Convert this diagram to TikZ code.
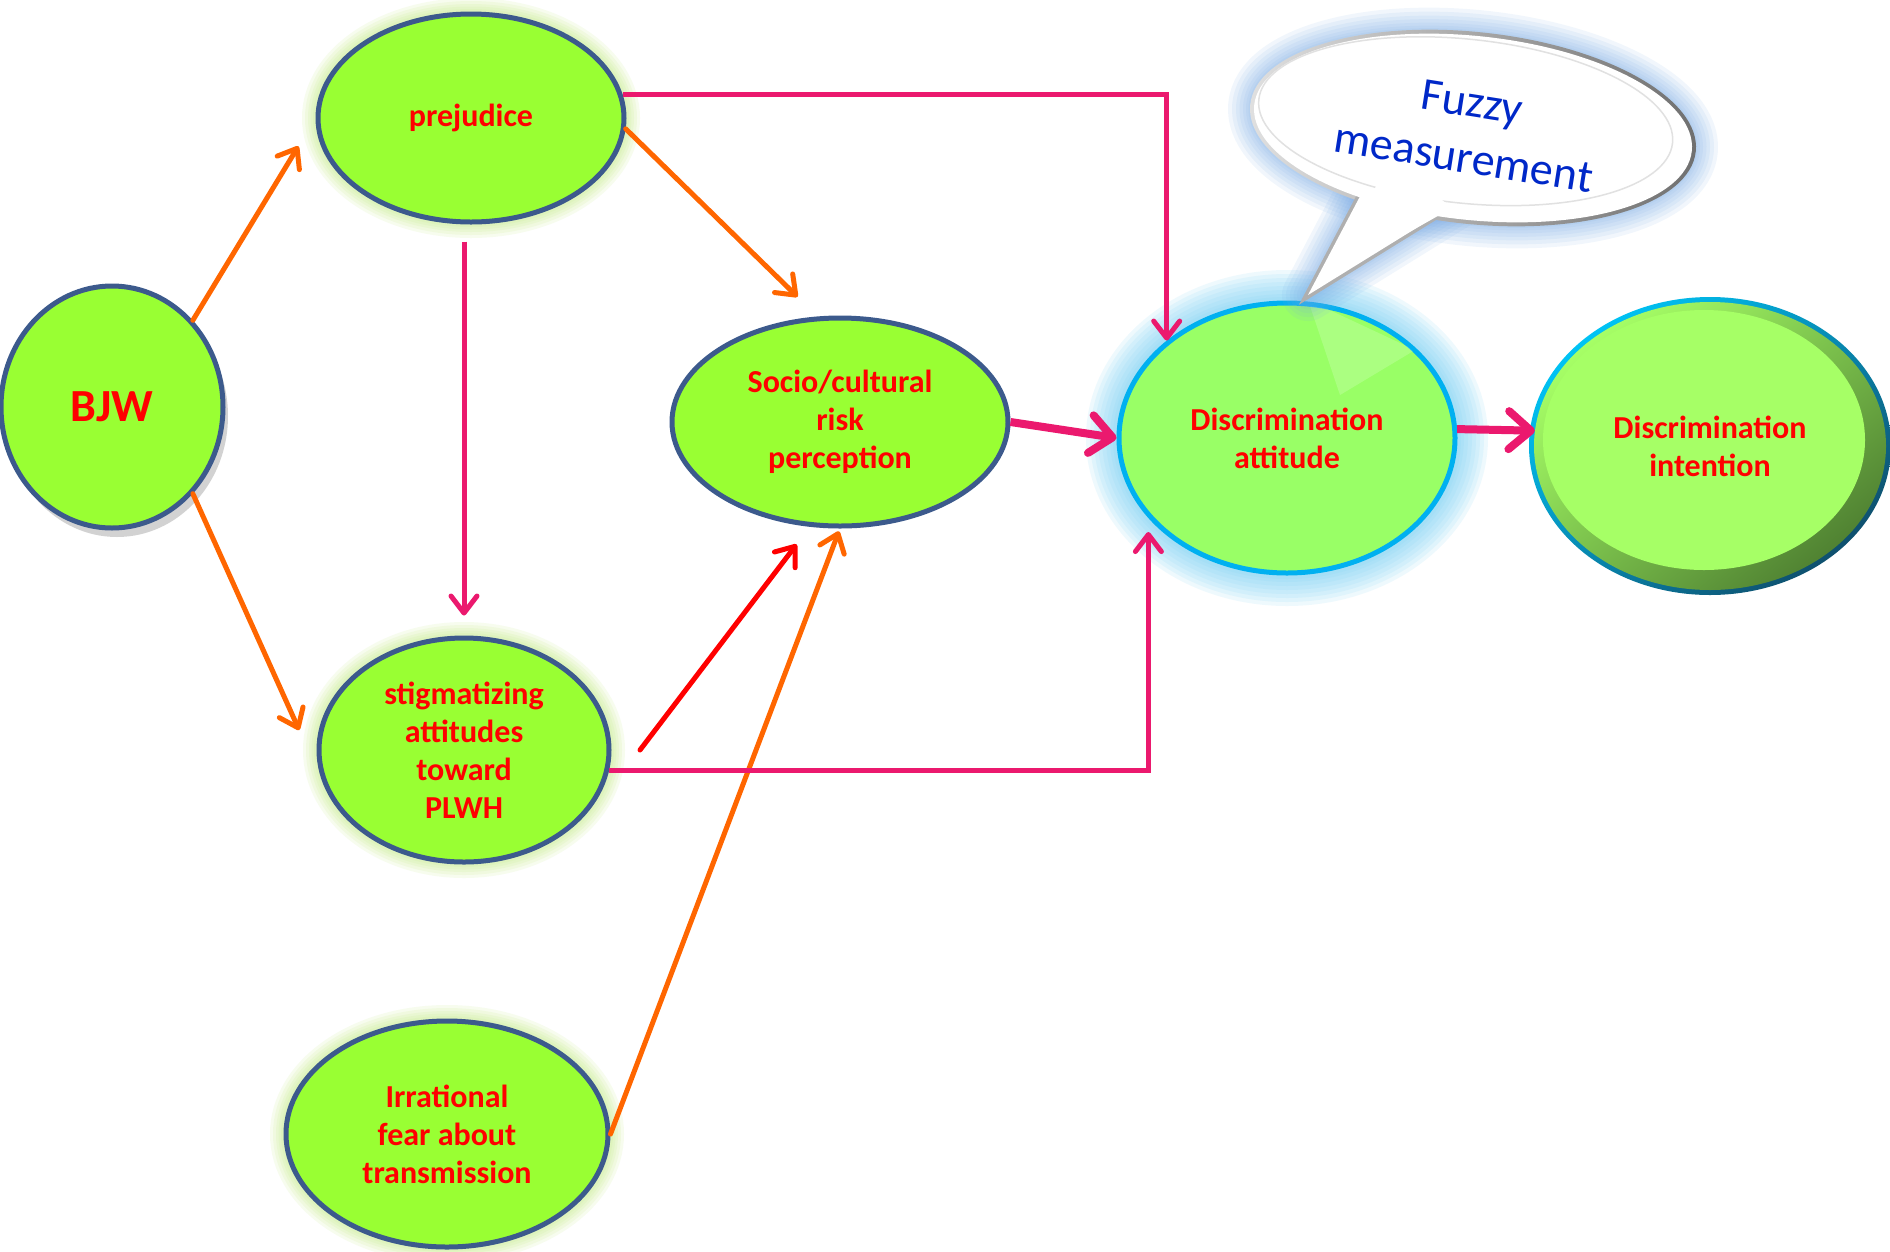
\documentclass[tikz,border=0pt]{standalone}
\usepackage{fontspec}
\setmainfont{Carlito}
\usetikzlibrary{arrows.meta,shapes.geometric,shadows,calc}
\definecolor{nodegreen}{RGB}{153,255,51}
\definecolor{nodeline}{RGB}{60,90,140}
\definecolor{txtred}{RGB}{255,0,0}
\definecolor{arrorange}{RGB}{255,102,0}
\definecolor{arrpink}{RGB}{235,25,110}
\definecolor{arrred}{RGB}{255,0,0}
\definecolor{halogreen}{RGB}{190,235,120}
\definecolor{halocyan}{RGB}{120,210,245}
\definecolor{attfill}{RGB}{153,255,102}
\definecolor{attline}{RGB}{0,176,240}
\definecolor{intfill}{RGB}{166,255,102}
\definecolor{intdark}{RGB}{80,130,50}
\definecolor{intlinelight}{RGB}{0,195,245}
\definecolor{intlinedark}{RGB}{15,80,110}
\definecolor{bubbleblue}{RGB}{120,170,230}
\definecolor{bubbleedge}{RGB}{175,175,175}
\definecolor{bubbledark}{RGB}{110,110,110}
\definecolor{bubblelight}{RGB}{225,225,225}
\definecolor{bubbletext}{RGB}{0,40,200}
\begin{document}
\begin{tikzpicture}[x=1pt,y=-1pt,
  base/.style={ellipse, inner sep=0pt, align=center, text=txtred,
    font=\bfseries\fontsize{32}{38}\selectfont},
  greennode/.style={base, fill=nodegreen, draw=nodeline, line width=5pt},
  hl/.style 2 args={preaction={draw=#1, line width=#2, draw opacity=0.12}},
  halo/.style={hl={halogreen}{32pt}, hl={halogreen}{26pt}, hl={halogreen}{20pt},
               hl={halogreen}{15pt}, hl={halogreen}{10pt}},
  cyanhalo/.style={hl={halocyan}{66pt}, hl={halocyan}{58pt}, hl={halocyan}{50pt},
               hl={halocyan}{42pt}, hl={halocyan}{34pt}, hl={halocyan}{26pt},
               hl={halocyan}{18pt}, hl={halocyan}{12pt}},
  orangearr/.style={draw=arrorange, line width=5pt, line cap=round,
    -{Straight Barb[length=17pt,width=26pt,round]}},
  redarr/.style={draw=arrred, line width=5pt, line cap=round,
    -{Straight Barb[length=17pt,width=26pt,round]}},
  pinkarr/.style={draw=arrpink, line width=5pt, line join=miter,
    -{Straight Barb[length=17pt,width=26pt,round]}},
  pinkthick/.style={draw=arrpink, line width=8pt,
    -{Straight Barb[length=22pt,width=38pt,round]}},
  bubglow/.style={draw=bubbleblue, line join=round, draw opacity=0.1},
]
\useasboundingbox (0,0) rectangle (1890,1251);
\fill[white] (0,0) rectangle (1890,1251);

% nodes
\node[greennode, minimum width=222pt, minimum height=242pt,
  font=\bfseries\fontsize{46}{50}\selectfont,
  drop shadow={shadow xshift=5pt, shadow yshift=-9pt, opacity=0.35}]
  (bjw) at (112,407) {BJW};
\node[greennode, halo, minimum width=306pt, minimum height=208pt] (pre) at (471,118) {prejudice};
\node[greennode, minimum width=336pt, minimum height=208pt] (soc) at (840,422) {Socio/cultural\\risk\\perception};
\node[greennode, halo, minimum width=290pt, minimum height=224pt] (stig) at (464,750) {stigmatizing\\attitudes\\toward\\PLWH};
\node[greennode, halo, minimum width=322pt, minimum height=226pt] (irr) at (447,1134) {Irrational\\fear about\\transmission};
\node[base, cyanhalo, fill=attfill, draw=attline, line width=5pt,
  minimum width=336pt, minimum height=270pt] (att) at (1287,438) {Discrimination\\attitude};
% rim of the intention ellipse (light at top-left, dark at bottom-right)
\shade[top color=intlinelight, bottom color=intlinedark, shading angle=40]
  (1710,446) ellipse [x radius=181, y radius=149];
\node[base, top color=intfill, bottom color=intdark,
  shading angle=40, minimum width=352pt, minimum height=288pt,
  path picture={\fill[intfill] ([shift={(-6pt,6pt)}]path picture bounding box.center)
     ellipse [x radius=161pt, y radius=130pt];}]
  (int) at (1710,446) {Discrimination\\intention};

% light streak inside attitude node
\begin{scope}
\clip (1287,438) ellipse [x radius=166, y radius=133];
\fill[white, fill opacity=0.18] (1308,300) -- (1340,395) -- (1415,350) -- cycle;
\end{scope}

% connectors
\draw[orangearr, shorten >=33pt] (bjw.47) -- (pre.180);
\draw[orangearr, shorten >=55pt] (bjw.-47) -- (stig.192);
\draw[orangearr, shorten >=28pt] (pre.-4) -- (soc.102);
\draw[orangearr, shorten >=3pt] (irr.east) -- (soc.south);
\coordinate (redstart) at (640,750);
\draw[redarr, shorten >=22pt] (redstart) -- (soc.254);
\draw[pinkarr, shorten <=17pt, shorten >=20pt] (stig.north |- pre.south) -- (stig.north);
\draw[pinkarr] (pre.9) -| (att.141);
\draw[pinkarr, shorten >=14pt] (stig.-8) -| (att.210);
\draw[pinkthick] (soc.east) -- (att.west);
\draw[pinkthick] (att.3) -- (int.175);

% speech bubble
\foreach \w in {52,44,36,29,22,16,11}{
  \draw[bubglow, line width=\w pt, rotate around={-6:(1473,128)}]
    (1473,128) ellipse [x radius=220, y radius=92];
  \draw[bubglow, line width=\w pt]
    (1386,147) -- (1308,295) -- (1460,201) -- cycle;
}
\shade[left color=bubblelight, right color=bubbledark, rotate around={-6:(1473,128)}]
  (1473,128) ellipse [x radius=224, y radius=96];
\draw[bubbleedge, line width=7pt, line join=miter]
  (1386,147) -- (1308,295) -- (1460,201) -- cycle;
\fill[white, rotate around={-6:(1473,128)}]
  (1473,128) ellipse [x radius=220, y radius=92];
\fill[white] (1386,147) -- (1308,295) -- (1460,201) -- cycle;
\draw[bubblelight, line width=1.5pt, rotate around={-6:(1473,128)}]
  (1465,122) ellipse [x radius=208, y radius=82];
\fill[white] (1392,160) -- (1317,284) -- (1452,208) -- cycle;
\node[rotate=-9, align=center, text=bubbletext,
  font=\fontsize{46}{56}\selectfont] (bubtxt) at (1468,130) {Fuzzy\\measurement};
\end{tikzpicture}
\end{document}
